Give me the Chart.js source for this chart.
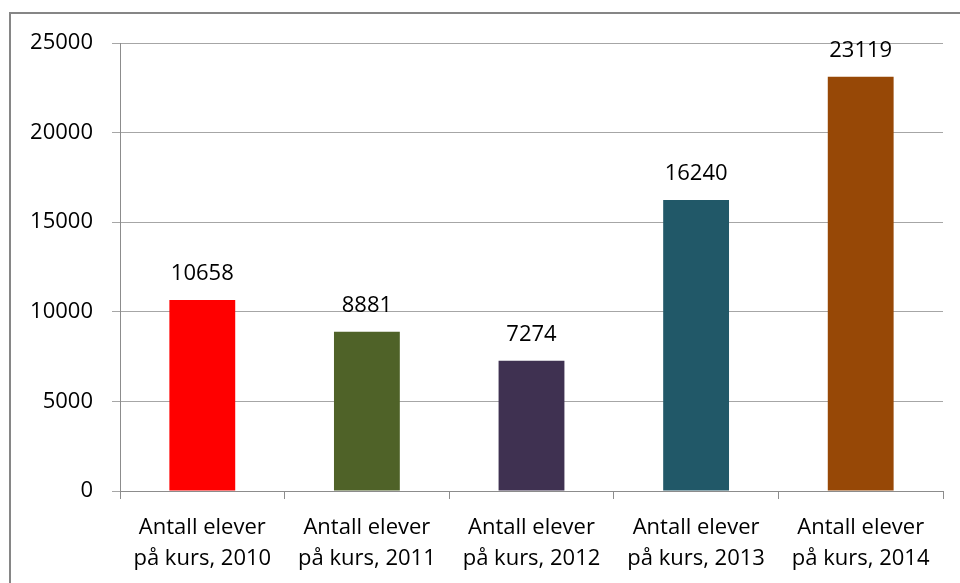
<!DOCTYPE html>
<html><head><meta charset="utf-8">
<script src="https://cdn.jsdelivr.net/npm/chart.js@4/dist/chart.umd.min.js"></script>
<style>
html,body{margin:0;padding:0;overflow:hidden;background:#fff;width:960px;height:583px;}
#frame{position:absolute;left:9px;top:12px;width:1200px;height:1200px;border-top:2px solid #868686;border-left:2px solid #868686;}
#wrap{position:absolute;left:0;top:0;width:960px;height:583px;}
</style></head><body>
<div id="frame"></div>
<div id="wrap"><canvas id="c" width="960" height="583"></canvas></div>
<script>
const categories = [
  ['Antall elever', 'på kurs, 2010'],
  ['Antall elever', 'på kurs, 2011'],
  ['Antall elever', 'på kurs, 2012'],
  ['Antall elever', 'på kurs, 2013'],
  ['Antall elever', 'på kurs, 2014']
];
const values = [10658, 8881, 7274, 16240, 23119];
const barColors = ['#FF0000', '#4F6228', '#3F3151', '#215868', '#974806'];
const yTicks = [0, 5000, 10000, 15000, 20000, 25000];

const FONT = '"Open Sans", "Noto Sans", sans-serif';
const FSIZE = 22;

const valueLabels = {
  id: 'valueLabels',
  afterDatasetsDraw(chart) {
    const ctx = chart.ctx;
    const meta = chart.getDatasetMeta(0);
    ctx.save();
    ctx.font = FSIZE + 'px ' + FONT;
    ctx.fillStyle = '#000';
    ctx.textAlign = 'center';
    ctx.textBaseline = 'middle';
    meta.data.forEach((bar, i) => {
      ctx.fillText(String(values[i]), bar.x, bar.y - 26);
    });
    ctx.restore();
  }
};

new Chart(document.getElementById('c'), {
  type: 'bar',
  data: {
    labels: categories,
    datasets: [{
      data: values,
      backgroundColor: barColors,
      borderWidth: 0,
      categoryPercentage: 1,
      barPercentage: 0.4
    }]
  },
  options: {
    responsive: false,
    animation: false,
    devicePixelRatio: 1,
    layout: { padding: { left: 0, right: 17, top: 43, bottom: 0 } },
    plugins: { legend: { display: false }, tooltip: { enabled: false } },
    scales: {
      x: {
        offset: true,
        grid: { offset: true, drawOnChartArea: false, drawTicks: true, tickLength: 8, color: '#8c8c8c', lineWidth: 1 },
        border: { display: true, color: '#8c8c8c', width: 1 },
        ticks: { color: '#000', font: { family: FONT, size: FSIZE, lineHeight: 1.42 }, padding: 13, maxRotation: 0, autoSkip: false },
        afterFit(s) { s.height = 92; }
      },
      y: {
        min: 0, max: 25000,
        afterBuildTicks(s) { s.ticks = yTicks.map(v => ({ value: v })); },
        grid: { color: '#a6a6a6', lineWidth: 1, drawTicks: true, tickLength: 8 },
        border: { display: true, color: '#8c8c8c', width: 1 },
        ticks: { color: '#000', font: { family: FONT, size: FSIZE }, padding: 19, callback: v => String(v) },
        afterFit(s) { s.width = 120; }
      }
    }
  },
  plugins: [valueLabels]
});
</script>
</body></html>
